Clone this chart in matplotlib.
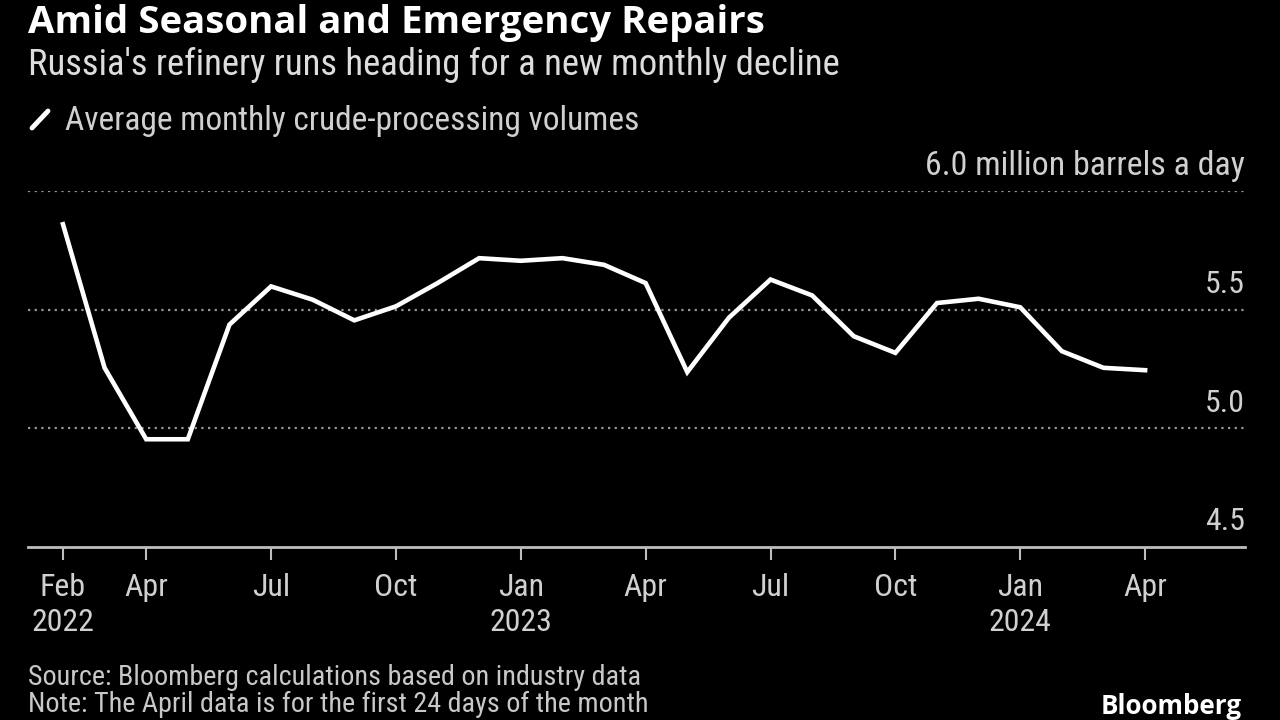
import matplotlib
matplotlib.use("Agg")
import matplotlib.pyplot as plt
from matplotlib import font_manager as fm
from matplotlib.lines import Line2D

names = {f.name for f in fm.fontManager.ttflist}
narrow = next((n for n in ["Roboto Condensed", "PT Sans Narrow", "Open Sans Condensed",
                           "IBM Plex Sans Condensed", "Archivo Narrow", "Liberation Sans Narrow"]
               if n in names), "DejaVu Sans")
regular = next((n for n in ["Open Sans", "Noto Sans", "DejaVu Sans"] if n in names), "DejaVu Sans")

months = ["Feb 2022", "Mar 2022", "Apr 2022", "May 2022", "Jun 2022", "Jul 2022", "Aug 2022",
          "Sep 2022", "Oct 2022", "Nov 2022", "Dec 2022", "Jan 2023", "Feb 2023", "Mar 2023",
          "Apr 2023", "May 2023", "Jun 2023", "Jul 2023", "Aug 2023", "Sep 2023", "Oct 2023",
          "Nov 2023", "Dec 2023", "Jan 2024", "Feb 2024", "Mar 2024", "Apr 2024"]
volumes = [5.86, 5.255, 4.954, 4.954, 5.437, 5.598, 5.542, 5.455, 5.514, 5.612, 5.717, 5.706,
           5.717, 5.689, 5.612, 5.237, 5.466, 5.627, 5.560, 5.388, 5.318, 5.528, 5.546, 5.510,
           5.325, 5.255, 5.245]
tick_idx = [0, 2, 5, 8, 11, 14, 17, 20, 23, 26]
tick_labels = ["Feb\n2022", "Apr", "Jul", "Oct", "Jan\n2023", "Apr", "Jul", "Oct", "Jan\n2024", "Apr"]
y_ticks = [4.5, 5.0, 5.5, 6.0]
y_tick_labels = ["4.5", "5.0", "5.5", "6.0 million barrels a day"]

BG = "black"
fig = plt.figure(figsize=(12.8, 7.2), dpi=100, facecolor=BG)
W, H = 1280, 720
renderer = fig.canvas.get_renderer()


def fit(t, target_px):
    w = t.get_window_extent(renderer).width
    t.set_fontsize(t.get_fontsize() * target_px / w)
    return t


def size_for(text, target_px, **kw):
    t = fig.text(0, 0, text, fontsize=20, **kw)
    s = 20 * target_px / t.get_window_extent(renderer).width
    t.remove()
    return s


tick_fs = size_for("2022", 63, family=[narrow, "DejaVu Sans"])

ax = fig.add_axes([28 / W, 1 - 547 / H, (1245 - 28) / W, (547 - 191) / H], facecolor=BG)

x = list(range(len(volumes)))
ax.plot(x, volumes, color="white", lw=3.3, solid_joinstyle="miter", zorder=3)

ax.set_xlim(-0.84, 28.4)
ax.set_ylim(4.5, 6.0)

for v in y_ticks[1:]:
    ax.axhline(v, color="#999999", lw=1.6, ls=(0, (1, 2)), zorder=1)

for s in ["top", "right", "left"]:
    ax.spines[s].set_visible(False)
ax.spines["bottom"].set_color("#bdbdbd")
ax.spines["bottom"].set_linewidth(2)

ax.set_yticks([])
ax.set_xticks(tick_idx)
ax.set_xticklabels(tick_labels, fontsize=tick_fs, color="#d0d0d0", family=[narrow, "DejaVu Sans"],
                   linespacing=1.25)
ax.tick_params(axis="x", length=9, width=1.5, color="#bdbdbd", pad=10)

for v, lab in zip(y_ticks, y_tick_labels):
    t = ax.annotate(lab, xy=(1.0, v), xycoords=("axes fraction", "data"),
                    xytext=(0, 25), textcoords="offset pixels", ha="right", va="center",
                    fontsize=tick_fs, color="#d0d0d0", family=[narrow, "DejaVu Sans"])
    if v == 6.0:
        fit(t, 320)

t = fig.text(28 / W, 1 - 23 / H, "Amid Seasonal and Emergency Repairs", fontsize=23,
             fontweight="bold", color="white", va="center", ha="left",
             family=[regular, "DejaVu Sans"])
fit(t, 737)
t = fig.text(28 / W, 1 - 65 / H, "Russia's refinery runs heading for a new monthly decline",
             fontsize=21, color="#dddddd", va="center", ha="left", family=[narrow, "DejaVu Sans"])
fit(t, 812)

leg_line = Line2D([32 / W, 48 / W], [1 - 128 / H, 1 - 111 / H], transform=fig.transFigure,
                  color="white", lw=3.5, solid_capstyle="round")
fig.add_artist(leg_line)
t = fig.text(65 / W, 1 - 121 / H, "Average monthly crude-processing volumes", fontsize=19,
             color="#d0d0d0", va="center", ha="left", family=[narrow, "DejaVu Sans"])
fit(t, 575)

t1 = fig.text(28 / W, 1 - 685 / H, "Source: Bloomberg calculations based on industry data",
              fontsize=17.5, color="#c8c8c8", va="baseline", ha="left",
              family=[narrow, "DejaVu Sans"])
fit(t1, 610)
t2 = fig.text(28 / W, 1 - 712 / H, "Note: The April data is for the first 24 days of the month",
              fontsize=t1.get_fontsize(), color="#c8c8c8", va="baseline", ha="left",
              family=[narrow, "DejaVu Sans"])
t = fig.text(1242 / W, 1 - 714 / H, "Bloomberg", fontsize=18, fontweight="bold",
             color="white", va="baseline", ha="right", family=[regular, "DejaVu Sans"])
fit(t, 142)

fig.savefig("out.png", dpi=100, facecolor=BG)
